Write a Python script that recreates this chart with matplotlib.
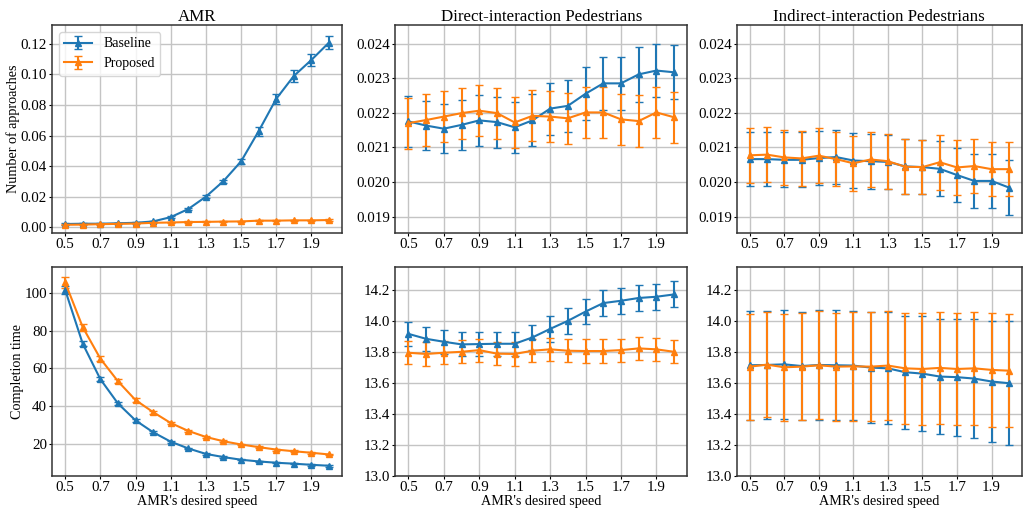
import matplotlib
matplotlib.use("Agg")
import matplotlib.pyplot as plt
import numpy as np

plt.rcParams['font.family'] = ['Liberation Serif', 'DejaVu Serif']
plt.rcParams['font.size'] = 10

speeds = [0.5, 0.6, 0.7, 0.8, 0.9, 1.0, 1.1, 1.2, 1.3, 1.4, 1.5, 1.6, 1.7, 1.8, 1.9, 2.0]
xticks = [0.5, 0.7, 0.9, 1.1, 1.3, 1.5, 1.7, 1.9]

# AMR - number of approaches
amr_app_base = [0.0020, 0.0022, 0.0022, 0.0025, 0.0028, 0.0037, 0.0065, 0.0118, 0.0199, 0.0301,
                0.0430, 0.0628, 0.0840, 0.0990, 0.1095, 0.1209]
amr_app_base_err = [0.0004, 0.0004, 0.0004, 0.0004, 0.0004, 0.0005, 0.0006, 0.0007, 0.0008, 0.0010,
                    0.0015, 0.0030, 0.0035, 0.0040, 0.0040, 0.0043]
amr_app_prop = [0.0015, 0.0016, 0.0019, 0.0021, 0.0023, 0.0028, 0.0030, 0.0033, 0.0034, 0.0036,
                0.0037, 0.0042, 0.0042, 0.0044, 0.0044, 0.0046]
amr_app_prop_err = [0.0004] * 16

# Direct-interaction pedestrians - number of approaches
dir_app_base = [0.02175, 0.02163, 0.02154, 0.02165, 0.02178, 0.02173, 0.02158, 0.02178, 0.02212, 0.02220,
                0.02255, 0.02285, 0.02285, 0.02311, 0.02322, 0.02317]
dir_app_base_err = [0.00073, 0.00072, 0.00071, 0.00072, 0.00073, 0.00074, 0.00074, 0.00075, 0.00075, 0.00075,
                    0.00077, 0.00077, 0.00077, 0.00079, 0.00077, 0.00078]
dir_app_prop = [0.02170, 0.02179, 0.02189, 0.02199, 0.02206, 0.02199, 0.02172, 0.02191, 0.02189, 0.02184,
                0.02201, 0.02201, 0.02181, 0.02176, 0.02201, 0.02187]
dir_app_prop_err = [0.00074] * 16

# Indirect-interaction pedestrians - number of approaches
ind_app_base = [0.02066, 0.02066, 0.02064, 0.02064, 0.02069, 0.02072, 0.02062, 0.02060, 0.02058, 0.02045,
                0.02043, 0.02038, 0.02020, 0.02003, 0.02003, 0.01984]
ind_app_base_err = [0.00079] * 16
ind_app_prop = [0.02077, 0.02079, 0.02071, 0.02068, 0.02076, 0.02066, 0.02054, 0.02065, 0.02060, 0.02044,
                0.02043, 0.02057, 0.02042, 0.02046, 0.02037, 0.02037]
ind_app_prop_err = [0.00079] * 16

# AMR - completion time
amr_ct_base = [101.6, 73.0, 54.2, 41.3, 32.3, 26.0, 21.0, 17.4, 14.5, 12.8, 11.4, 10.5, 9.8, 9.3, 8.7, 8.2]
amr_ct_base_err = [2.0, 1.2, 0.9, 0.7, 0.6, 0.5, 0.5, 0.4, 0.4, 0.4, 0.4, 0.4, 0.4, 0.4, 0.4, 0.4]
amr_ct_prop = [105.6, 81.8, 65.1, 53.1, 43.1, 36.7, 30.9, 26.7, 23.5, 21.2, 19.5, 18.1, 16.8, 15.9, 15.1, 14.2]
amr_ct_prop_err = [3.0, 1.8, 1.3, 1.1, 0.9, 0.8, 0.7, 0.6, 0.6, 0.6, 0.5, 0.5, 0.5, 0.5, 0.5, 0.5]

# Direct-interaction pedestrians - completion time
dir_ct_base = [13.919, 13.887, 13.868, 13.851, 13.853, 13.855, 13.855, 13.896, 13.951, 14.003,
               14.063, 14.118, 14.133, 14.151, 14.159, 14.174]
dir_ct_base_err = [0.077, 0.076, 0.077, 0.078, 0.078, 0.079, 0.079, 0.080, 0.082, 0.082,
                   0.083, 0.085, 0.085, 0.085, 0.085, 0.084]
dir_ct_prop = [13.797, 13.789, 13.797, 13.803, 13.814, 13.791, 13.789, 13.810, 13.819, 13.810,
               13.808, 13.808, 13.814, 13.825, 13.819, 13.803]
dir_ct_prop_err = [0.075] * 16

# Indirect-interaction pedestrians - completion time
ind_ct_base = [13.716, 13.718, 13.722, 13.711, 13.718, 13.716, 13.714, 13.701, 13.696, 13.671,
               13.662, 13.643, 13.639, 13.630, 13.611, 13.600]
ind_ct_base_err = [0.351, 0.352, 0.351, 0.352, 0.354, 0.355, 0.355, 0.358, 0.363, 0.366,
                   0.370, 0.373, 0.378, 0.386, 0.390, 0.400]
ind_ct_prop = [13.707, 13.720, 13.703, 13.707, 13.716, 13.707, 13.709, 13.707, 13.714, 13.696,
               13.692, 13.699, 13.692, 13.696, 13.686, 13.681]
ind_ct_prop_err = [0.343, 0.340, 0.345, 0.348, 0.350, 0.350, 0.352, 0.354, 0.355, 0.357,
                   0.360, 0.362, 0.364, 0.366, 0.367, 0.367]

titles = ["AMR", "Direct-interaction Pedestrians", "Indirect-interaction Pedestrians"]
amr_app_ticks = [0.00, 0.02, 0.04, 0.06, 0.08, 0.10, 0.12]
ped_app_ticks = [0.019, 0.020, 0.021, 0.022, 0.023, 0.024]
ped_ct_ticks = [13.0, 13.2, 13.4, 13.6, 13.8, 14.0, 14.2]

fig = plt.figure(figsize=(10.29, 5.08), dpi=100)
lefts = [0.0505, 0.384, 0.716]
widths = [0.282, 0.284, 0.277]
axes = [[None] * 3 for _ in range(2)]
for c in range(3):
    axes[0][c] = fig.add_axes([lefts[c], 0.541, widths[c], 0.410])
    axes[1][c] = fig.add_axes([lefts[c], 0.063, widths[c], 0.411])

data = [
    [(amr_app_base, amr_app_base_err, amr_app_prop, amr_app_prop_err),
     (dir_app_base, dir_app_base_err, dir_app_prop, dir_app_prop_err),
     (ind_app_base, ind_app_base_err, ind_app_prop, ind_app_prop_err)],
    [(amr_ct_base, amr_ct_base_err, amr_ct_prop, amr_ct_prop_err),
     (dir_ct_base, dir_ct_base_err, dir_ct_prop, dir_ct_prop_err),
     (ind_ct_base, ind_ct_base_err, ind_ct_prop, ind_ct_prop_err)],
]

for r in range(2):
    for c in range(3):
        ax = axes[r][c]
        b, be, p, pe = data[r][c]
        ax.errorbar(speeds, b, yerr=be, color='#1f77b4', marker='^', markersize=3.8,
                    capsize=3, linewidth=1.5, label='Baseline')
        ax.errorbar(speeds, p, yerr=pe, color='#ff7f0e', marker='^', markersize=3.8,
                    capsize=3, linewidth=1.5, label='Proposed')
        ax.set_xticks(xticks)
        ax.set_xlim(0.425, 2.075)
        ax.grid(True, color='#c4c4c4', linewidth=1.0)
        ax.set_axisbelow(True)
        ax.tick_params(labelsize=10.8, length=2, pad=1.5)
        for s in ax.spines.values():
            s.set_color('#333333')
            s.set_linewidth(1.1)
        if r == 0:
            ax.set_title(titles[c], fontsize=12.2, pad=3)
        else:
            ax.set_xlabel("AMR's desired speed", fontsize=10.2, labelpad=0.5)

for c in (1, 2):
    axes[0][c].set_ylim(0.01852, 0.02454)
    axes[0][c].set_yticks(ped_app_ticks)
    axes[0][c].yaxis.set_major_formatter(matplotlib.ticker.FormatStrFormatter('%.3f'))
    axes[1][c].set_ylim(13.0, 14.35)
    axes[1][c].set_yticks(ped_ct_ticks)
    axes[1][c].yaxis.set_major_formatter(matplotlib.ticker.FormatStrFormatter('%.1f'))

axes[0][0].set_ylim(-0.004, 0.1325)
axes[0][0].set_yticks(amr_app_ticks)
axes[0][0].yaxis.set_major_formatter(matplotlib.ticker.FormatStrFormatter('%.2f'))
axes[0][0].set_ylabel("Number of approaches", fontsize=10.2, labelpad=0.5)
axes[1][0].set_ylabel("Completion time", fontsize=10.2, labelpad=0.5)
axes[0][0].legend(loc='upper left', fontsize=10)

fig.savefig("out.png", dpi=100)
